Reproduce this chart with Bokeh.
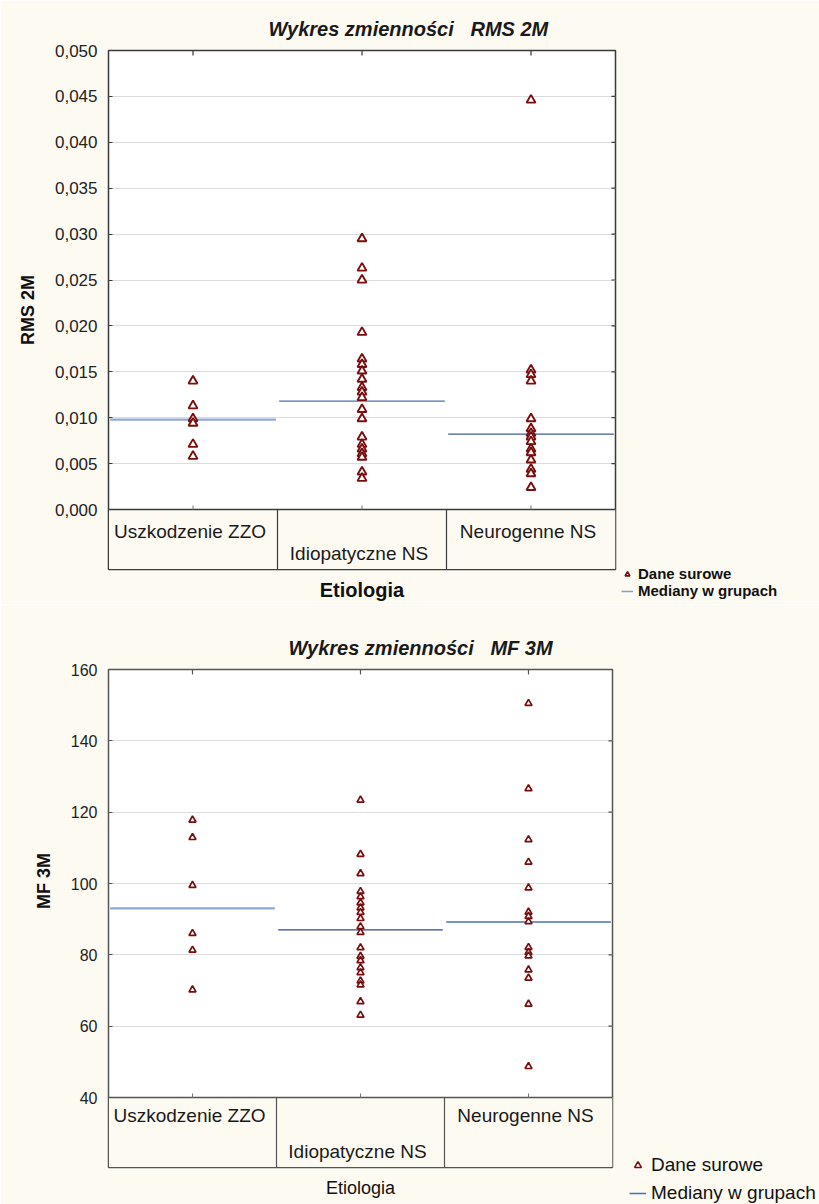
from bokeh.plotting import figure
from bokeh.layouts import column
from bokeh.models import (Range1d, FixedTicker, CustomJSTickFormatter,
                          Legend, LegendItem, ColumnDataSource)
from bokeh.embed import file_html
from bokeh.resources import INLINE
from bokeh.core.properties import value
import numpy as np

# ---------------- data ----------------
categories = ["Uszkodzenie ZZO", "Idiopatyczne NS", "Neurogenne NS"]
label_rows = [0, 1, 0]

rms_uszk = [0.0140, 0.0113, 0.0099, 0.0094, 0.0071, 0.0058]
rms_idio = [0.0295, 0.0263, 0.0250, 0.0193, 0.0164, 0.0158, 0.0151, 0.0142, 0.0133,
            0.0128, 0.0122, 0.0109, 0.0099, 0.0079, 0.0071, 0.0066, 0.0061, 0.0057,
            0.0041, 0.0034]
rms_neuro = [0.0446, 0.0152, 0.0147, 0.0140, 0.0099, 0.0088, 0.0083, 0.0079, 0.0074,
             0.0066, 0.0062, 0.0054, 0.0044, 0.0039, 0.0024]
rms_medians = [0.0098, 0.0118, 0.0082]
rms_ticks = [0.000, 0.005, 0.010, 0.015, 0.020, 0.025, 0.030, 0.035, 0.040, 0.045, 0.050]

mf_uszk = [117.8, 112.9, 99.5, 86.0, 81.3, 70.2]
mf_idio = [123.4, 108.2, 102.8, 97.8, 96.3, 94.6, 93.2, 91.9, 90.2, 87.9, 86.3, 82.0,
           79.6, 78.4, 76.4, 75.0, 72.7, 71.6, 66.9, 63.1]
mf_neuro = [150.5, 126.6, 112.3, 106.0, 98.8, 92.0, 90.8, 89.3, 82.1, 80.7, 79.7, 75.8,
            73.5, 66.2, 48.7]
mf_medians = [93.0, 87.0, 89.2]
mf_ticks = [40, 60, 80, 100, 120, 140, 160]

CREAM = "#FDFAF2"
FONT = "Liberation Sans"
PT_COLOR = "#7A0E0E"


def make_chart(groups, medians, ticks, fmt_code, title, ylab, *,
               height, top, left, frame_right, frame_h, plot_h, px_per_unit,
               median_colors, median_widths, frame_color, title_offset, title_standoff,
               cat_font, cat_offsets, x_label_bold, legend_font, legend_bold,
               legend_loc, legend_row_h, legend_glyph_w, marker_size, marker_lw,
               legend_marker_size, tick_font, ylab_font, ylab_pad, xlab_font,
               xlab_standoff, legend_line_color):
    ncat = len(categories)
    ymax = ticks[-1]
    base = ticks[0]
    frame_w = frame_right - left
    xppu = frame_w / ncat
    ymin = base - (frame_h - plot_h) / px_per_unit
    p = figure(width=819, height=height, frame_width=frame_w, frame_height=frame_h,
               output_backend="svg", toolbar_location=None,
               x_range=Range1d(0, ncat), y_range=Range1d(ymin, ymax),
               min_border_left=left, min_border_right=819 - frame_right,
               min_border_top=top, min_border_bottom=height - top - frame_h)
    p.background_fill_color = "white"
    p.border_fill_color = CREAM
    p.outline_line_color = frame_color
    p.outline_line_width = 1.5

    # title
    p.title.text = title
    p.title.text_font = FONT
    p.title.text_font_style = "bold italic"
    p.title.text_font_size = "20px"
    p.title.text_color = "#1a1a1a"
    p.title.align = "left"
    p.title.offset = title_offset
    p.title.standoff = title_standoff

    # grid
    p.xgrid.visible = False
    p.ygrid.ticker = FixedTicker(ticks=ticks)
    p.ygrid.grid_line_color = "#DCDCDC"
    p.ygrid.grid_line_width = 1

    # left axis
    ya = p.yaxis[0]
    ya.ticker = FixedTicker(ticks=ticks)
    if fmt_code:
        ya.formatter = CustomJSTickFormatter(code=fmt_code)
    ya.major_tick_in = 4
    ya.major_tick_out = 0
    ya.minor_tick_line_color = None
    ya.axis_line_color = frame_color
    ya.major_tick_line_color = frame_color
    ya.major_label_text_font = FONT
    ya.major_label_text_font_size = tick_font
    ya.major_label_text_color = "#222222"
    ya.major_label_standoff = 11
    ya.axis_label = "\u00a0" * ylab_pad + ylab
    ya.axis_label_text_font = FONT
    ya.axis_label_text_font_style = "bold"
    ya.axis_label_text_font_size = ylab_font
    ya.axis_label_text_color = "#111111"
    ya.axis_label_standoff = 14

    # bottom axis (only label)
    xa = p.xaxis[0]
    xa.ticker = FixedTicker(ticks=[])
    xa.major_label_standoff = 0
    xa.major_tick_line_color = None
    xa.minor_tick_line_color = None
    xa.axis_line_color = frame_color
    xa.axis_label = "Etiologia"
    xa.axis_label_text_font = FONT
    xa.axis_label_text_font_style = "bold" if x_label_bold else "normal"
    xa.axis_label_text_font_size = xlab_font
    xa.axis_label_text_color = "#111111"
    xa.axis_label_standoff = xlab_standoff

    centers = np.arange(ncat) + 0.5

    # inward ticks on the right edge and top edge
    nt = len(ticks)
    p.segment(x0=[ncat] * nt, x1=[ncat - 4 / xppu] * nt, y0=ticks, y1=ticks,
              line_color=frame_color, line_width=1.2)
    p.segment(x0=centers, x1=centers, y0=[ymax] * ncat, y1=[ymax - 5 / px_per_unit] * ncat,
              line_color=frame_color, line_width=1.2)

    # category box below the data area
    p.quad(left=[0], right=[ncat], bottom=[ymin], top=[base],
           fill_color=CREAM, line_color=None)
    p.segment(x0=[0], x1=[ncat], y0=[base], y1=[base],
              line_color=frame_color, line_width=1.5)
    seps = np.arange(1, ncat)
    p.segment(x0=seps, x1=seps, y0=[ymin] * len(seps), y1=[base] * len(seps),
              line_color=frame_color, line_width=1.2)
    # small category ticks at the base of the data area
    p.segment(x0=centers, x1=centers, y0=[base] * ncat,
              y1=[base + 4 / px_per_unit] * ncat, line_color="#777777", line_width=1)

    p.text(x=centers, y=[base] * ncat, text=categories,
           text_font=value(FONT), text_font_size=cat_font, text_color="#1a1a1a",
           text_align="center", text_baseline="top",
           y_offset=[cat_offsets[r] for r in label_rows], x_offset=-3)

    # medians
    msrc = ColumnDataSource(dict(x0=np.arange(ncat) + 0.01, x1=np.arange(ncat) + 0.99,
                                 y=medians, c=median_colors, w=median_widths))
    p.segment(x0="x0", x1="x1", y0="y", y1="y", line_color="c", line_width="w",
              source=msrc)

    # raw points
    xs, ys = [], []
    for i, g in enumerate(groups):
        xs += [centers[i]] * len(g)
        ys += list(g)
    p.scatter(x=xs, y=ys, marker="triangle", size=marker_size,
              fill_color="white", line_color=PT_COLOR, line_width=marker_lw)

    # legend proxies (outside the visible range)
    lp = p.scatter(x=[centers[0]], y=[ymax * 10], marker="triangle", size=legend_marker_size,
                   fill_color="white", line_color=PT_COLOR, line_width=1.6)
    ll = p.line(x=[0, 1], y=[ymax * 10, ymax * 10], line_color=legend_line_color,
                line_width=1.5)

    leg = Legend(items=[LegendItem(label="Dane surowe", renderers=[lp]),
                        LegendItem(label="Mediany w grupach", renderers=[ll])],
                 location=legend_loc, orientation="vertical")
    leg.background_fill_alpha = 0
    leg.border_line_color = None
    leg.padding = 0
    leg.margin = 0
    leg.spacing = 0
    leg.glyph_width = legend_glyph_w
    leg.glyph_height = legend_row_h
    leg.label_height = legend_row_h
    leg.label_standoff = 5
    leg.label_text_font = FONT
    leg.label_text_font_size = legend_font
    leg.label_text_font_style = "bold" if legend_bold else "normal"
    leg.label_text_color = "#111111"
    leg.label_text_baseline = "middle"
    p.add_layout(leg, "right")
    return p


p1 = make_chart([rms_uszk, rms_idio, rms_neuro], rms_medians, rms_ticks,
                "return tick.toFixed(3).replace('.', ',');",
                title="Wykres zmienności\u00a0\u00a0\u00a0RMS 2M", ylab="RMS 2M",
                height=604, top=50, left=105, frame_right=612, frame_h=519, plot_h=459,
                px_per_unit=9180.0,
                median_colors=["#8EA8D8", "#4F6FB0", "#3E5C98"], median_widths=[2.2, 1.3, 1.3],
                frame_color="#3a3a3a", title_offset=160, title_standoff=22,
                cat_font="19px", cat_offsets=[11, 33], x_label_bold=True,
                legend_font="15px", legend_bold=True, legend_loc=(6, -30),
                legend_row_h=16, legend_glyph_w=12, marker_size=9, marker_lw=1.9,
                legend_marker_size=7, tick_font="17px", ylab_font="18px", ylab_pad=0,
                xlab_font="20px", xlab_standoff=9, legend_line_color="#7F9FD4")

p2 = make_chart([mf_uszk, mf_idio, mf_neuro], mf_medians, mf_ticks, None,
                title="Wykres zmienności\u00a0\u00a0\u00a0MF 3M", ylab="MF 3M",
                height=600, top=65, left=108, frame_right=612, frame_h=498, plot_h=428,
                px_per_unit=3.567,
                median_colors=["#8DA7D6", "#2C4A8A", "#4A6FB6"], median_widths=[2.2, 1.3, 1.3],
                frame_color="#555555", title_offset=180, title_standoff=22,
                cat_font="19px", cat_offsets=[7, 43], x_label_bold=False,
                legend_font="19px", legend_bold=False, legend_loc=(17, -40),
                legend_row_h=28, legend_glyph_w=17, marker_size=7, marker_lw=1.7,
                legend_marker_size=6, tick_font="16px", ylab_font="18px", ylab_pad=15,
                xlab_font="18px", xlab_standoff=10, legend_line_color="#4A6FB6")

layout = column(p1, p2, spacing=0)
open("out.html", "w").write(file_html(layout, INLINE))
